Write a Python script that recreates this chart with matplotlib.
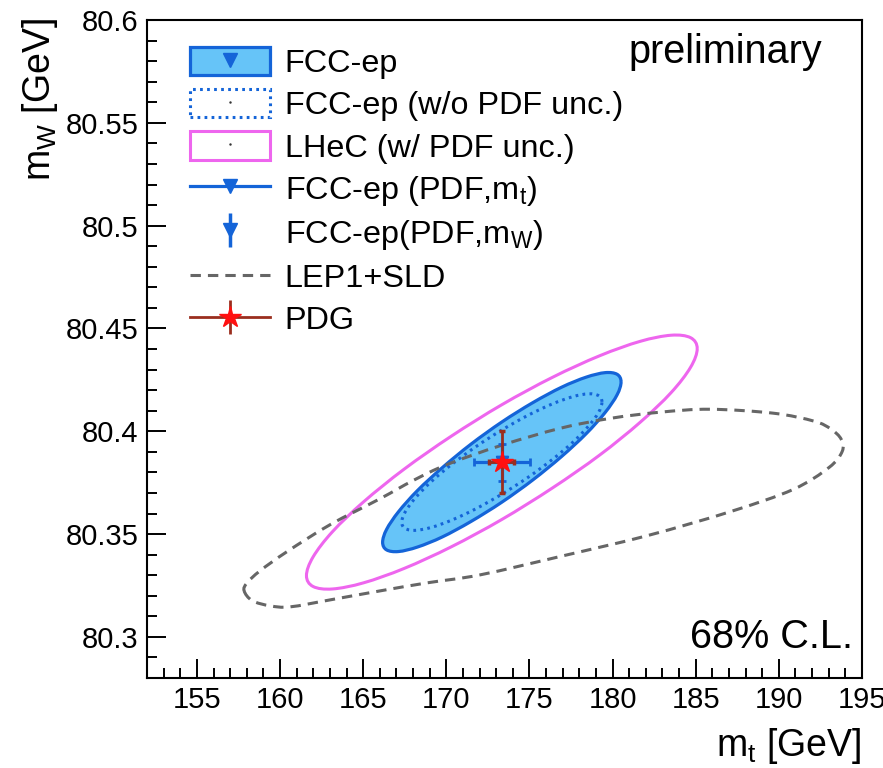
import numpy as np
import matplotlib
matplotlib.use('Agg')
import matplotlib.pyplot as plt
from matplotlib.path import Path
from matplotlib.patches import PathPatch, Patch
from matplotlib.lines import Line2D
from matplotlib.legend_handler import HandlerTuple
from matplotlib.ticker import FixedLocator, MultipleLocator

plt.rcParams['font.family'] = ['Liberation Sans', 'DejaVu Sans']
plt.rcParams['mathtext.fontset'] = 'custom'
plt.rcParams['mathtext.rm'] = 'Liberation Sans'
plt.rcParams['mathtext.it'] = 'Liberation Sans'
plt.rcParams['mathtext.bf'] = 'Liberation Sans:bold'
plt.rcParams['mathtext.default'] = 'regular'

# ---------------- data ----------------
# FCC-ep 68% CL contour (with PDF unc.)
fcc_mt = [180.51, 180.27, 179.55, 178.41, 176.93, 175.20, 173.34, 171.48, 169.76, 168.27, 167.13, 166.41,
          166.17, 166.41, 167.13, 168.27, 169.76, 171.48, 173.34, 175.20, 176.93, 178.41, 179.55, 180.27]
fcc_mw = [80.4240, 80.4277, 80.4285, 80.4263, 80.4214, 80.4139, 80.4045, 80.3937, 80.3823, 80.3712, 80.3609, 80.3523,
          80.3460, 80.3423, 80.3415, 80.3437, 80.3486, 80.3561, 80.3655, 80.3763, 80.3877, 80.3988, 80.4091, 80.4177]
# FCC-ep contour without PDF uncertainty
fcc_nopdf_mt = [179.36, 179.16, 178.55, 177.60, 176.35, 174.90, 173.34, 171.78, 170.33, 169.08, 168.13, 167.53,
                167.32, 167.53, 168.13, 169.08, 170.33, 171.78, 173.34, 174.90, 176.35, 177.60, 178.55, 179.16]
fcc_nopdf_mw = [80.4143, 80.4173, 80.4182, 80.4168, 80.4132, 80.4077, 80.4006, 80.3925, 80.3839, 80.3754, 80.3675, 80.3608,
                80.3557, 80.3527, 80.3518, 80.3532, 80.3568, 80.3623, 80.3694, 80.3775, 80.3861, 80.3946, 80.4025, 80.4092]
# LHeC contour (with PDF unc.)
lhec_mt = [185.09, 184.69, 183.52, 181.65, 179.22, 176.38, 173.34, 170.30, 167.47, 165.03, 163.16, 161.99,
           161.59, 161.99, 163.16, 165.03, 167.47, 170.30, 173.34, 176.38, 179.22, 181.65, 183.52, 184.69]
lhec_mw = [80.4402, 80.4455, 80.4467, 80.4437, 80.4367, 80.4262, 80.4129, 80.3976, 80.3816, 80.3657, 80.3512, 80.3389,
           80.3298, 80.3245, 80.3233, 80.3263, 80.3333, 80.3438, 80.3571, 80.3724, 80.3884, 80.4043, 80.4188, 80.4311]
# LEP1+SLD contour
lep_mt = [157.84, 158.33, 159.41, 160.61, 163.02, 166.04, 168.87, 172.06, 177.06, 182.12, 187.12, 190.86, 193.02,
          193.81, 193.75, 193.14, 192.12, 189.65, 185.86, 182.90, 179.89, 176.88, 173.33, 170.07, 168.02, 166.04,
          163.02, 160.43, 158.81, 158.02]
lep_mw = [80.3224, 80.3176, 80.3151, 80.3146, 80.3180, 80.3224, 80.3263, 80.3302, 80.3395, 80.3493, 80.3610, 80.3717,
          80.3824, 80.3902, 80.3961, 80.4010, 80.4049, 80.4088, 80.4107, 80.4093, 80.4063, 80.4015, 80.3932, 80.3839,
          80.3761, 80.3673, 80.3546, 80.3415, 80.3322, 80.3263]

# central point and 1D uncertainties
pdg_mt, pdg_mw = 173.34, 80.385
pdg_mt_err, pdg_mw_err = 0.75, 0.015
fcc_mt_err = 1.68     # FCC-ep (PDF, m_t)
fcc_mw_err = 0.009    # FCC-ep (PDF, m_W)

x_ticks = [155, 160, 165, 170, 175, 180, 185, 190, 195]
x_tick_labels = ['155', '160', '165', '170', '175', '180', '185', '190', '195']
y_ticks = [80.3, 80.35, 80.4, 80.45, 80.5, 80.55, 80.6]
y_tick_labels = ['80.3', '80.35', '80.4', '80.45', '80.5', '80.55', '80.6']

legend_labels = ['FCC-ep', 'FCC-ep (w/o PDF unc.)', 'LHeC (w/ PDF unc.)',
                 'FCC-ep (PDF,m$_t$)', 'FCC-ep(PDF,m$_W$)', 'LEP1+SLD', 'PDG']

# ---------------- style ----------------
c_fill = '#66c4f8'
c_blue = '#1464d8'
c_mag = '#ee66ee'
c_gray = '#666666'
c_brown = '#9a2e1e'
c_red = '#ff1010'


def closed_curve(xs, ys):
    P = np.column_stack([xs, ys])
    n = len(P)
    verts = [P[0]]
    codes = [Path.MOVETO]
    for i in range(n):
        p0, p1, p2, p3 = P[i - 1], P[i], P[(i + 1) % n], P[(i + 2) % n]
        verts += [p1 + (p2 - p0) / 6.0, p2 - (p3 - p1) / 6.0, p2]
        codes += [Path.CURVE4] * 3
    return Path(verts, codes)


fig = plt.figure(figsize=(8.83, 7.68), dpi=100)
ax = fig.add_axes([147 / 883, 90 / 768, 715 / 883, 658 / 768])
ax.set_xlim(152, 195)
ax.set_ylim(80.28, 80.6)

ax.add_patch(PathPatch(closed_curve(fcc_mt, fcc_mw), facecolor=c_fill, edgecolor=c_blue, lw=2.3, zorder=2))
ax.add_patch(PathPatch(closed_curve(fcc_nopdf_mt, fcc_nopdf_mw), facecolor='none', edgecolor=c_blue,
                       lw=2.2, linestyle=(0, (0.9, 1.4)), zorder=3))
ax.add_patch(PathPatch(closed_curve(lhec_mt, lhec_mw), facecolor='none', edgecolor=c_mag, lw=2.2, zorder=3))
ax.add_patch(PathPatch(closed_curve(lep_mt, lep_mw), facecolor='none', edgecolor=c_gray, lw=2.2,
                       linestyle=(0, (3.4, 2.3)), zorder=4))

ax.errorbar([pdg_mt], [pdg_mw], xerr=[fcc_mt_err], fmt='v', color=c_blue, ms=8, lw=2.3,
            capsize=3, capthick=2, zorder=5)
ax.errorbar([pdg_mt], [pdg_mw], yerr=[fcc_mw_err], fmt='v', color=c_blue, ms=8, lw=2.3,
            capsize=3, capthick=2, zorder=5)
ax.errorbar([pdg_mt], [pdg_mw], xerr=[pdg_mt_err], yerr=[pdg_mw_err], fmt='*', color=c_brown,
            mfc=c_red, mec=c_red, ms=16, lw=2.0, capsize=2.5, capthick=2.5, zorder=6)

# axes style
for s in ax.spines.values():
    s.set_linewidth(1.5)
ax.xaxis.set_major_locator(FixedLocator(x_ticks))
ax.set_xticklabels(x_tick_labels)
ax.xaxis.set_minor_locator(MultipleLocator(1))
ax.yaxis.set_major_locator(FixedLocator(y_ticks))
ax.set_yticklabels(y_tick_labels)
ax.yaxis.set_minor_locator(MultipleLocator(0.01))
ax.tick_params(which='both', direction='in', top=False, right=False, width=1.4, labelsize=21, pad=6)
ax.tick_params(which='major', length=14)
ax.tick_params(which='minor', length=7)

fig.text(862 / 883, 2 / 768, 'm$_t$ [GeV]', ha='right', va='bottom', fontsize=27)
fig.text(40 / 883, 1 - 18 / 768, 'm$_W$ [GeV]', ha='center', va='top', rotation=90, fontsize=27)

fig.text(822 / 883, 1 - 63 / 768, 'preliminary', ha='right', va='baseline', fontsize=28.5)
fig.text(853 / 883, 1 - 648 / 768, '68% C.L.', ha='right', va='baseline', fontsize=28.5)

# legend
h1 = (Patch(facecolor=c_fill, edgecolor=c_blue, lw=2.3),
      Line2D([], [], marker='v', color=c_blue, ls='none', ms=10))
h2 = (Patch(facecolor='none', edgecolor=c_blue, lw=2.2, linestyle=(0, (0.9, 1.4))),
      Line2D([], [], marker='.', color='#333333', ls='none', ms=1.5))
h3 = (Patch(facecolor='none', edgecolor=c_mag, lw=2.2),
      Line2D([], [], marker='.', color='#333333', ls='none', ms=1.5))
h4 = Line2D([], [], marker='v', color=c_blue, lw=2.3, ms=10)
h5 = (Line2D([], [], marker='|', color=c_blue, ls='none', ms=25, mew=2.5),
      Line2D([], [], marker='v', color=c_blue, ls='none', ms=10))
h6 = Line2D([], [], color=c_gray, lw=2.2, linestyle=(0, (3.4, 2.3)))
h7 = (Line2D([], [], color=c_brown, lw=2.0),
      Line2D([], [], marker='|', color=c_brown, ls='none', ms=24, mew=2.0),
      Line2D([], [], marker='*', color=c_red, ls='none', ms=16))

leg = ax.legend([h1, h2, h3, h4, h5, h6, h7], legend_labels,
                handler_map={tuple: HandlerTuple(ndivide=1)},
                loc='upper left', bbox_to_anchor=(0.060, 0.959), frameon=False,
                fontsize=23.3, handlelength=2.47, handleheight=0.96, handletextpad=0.46,
                labelspacing=0.31, borderpad=0, borderaxespad=0)

fig.savefig('out.png', dpi=100)
